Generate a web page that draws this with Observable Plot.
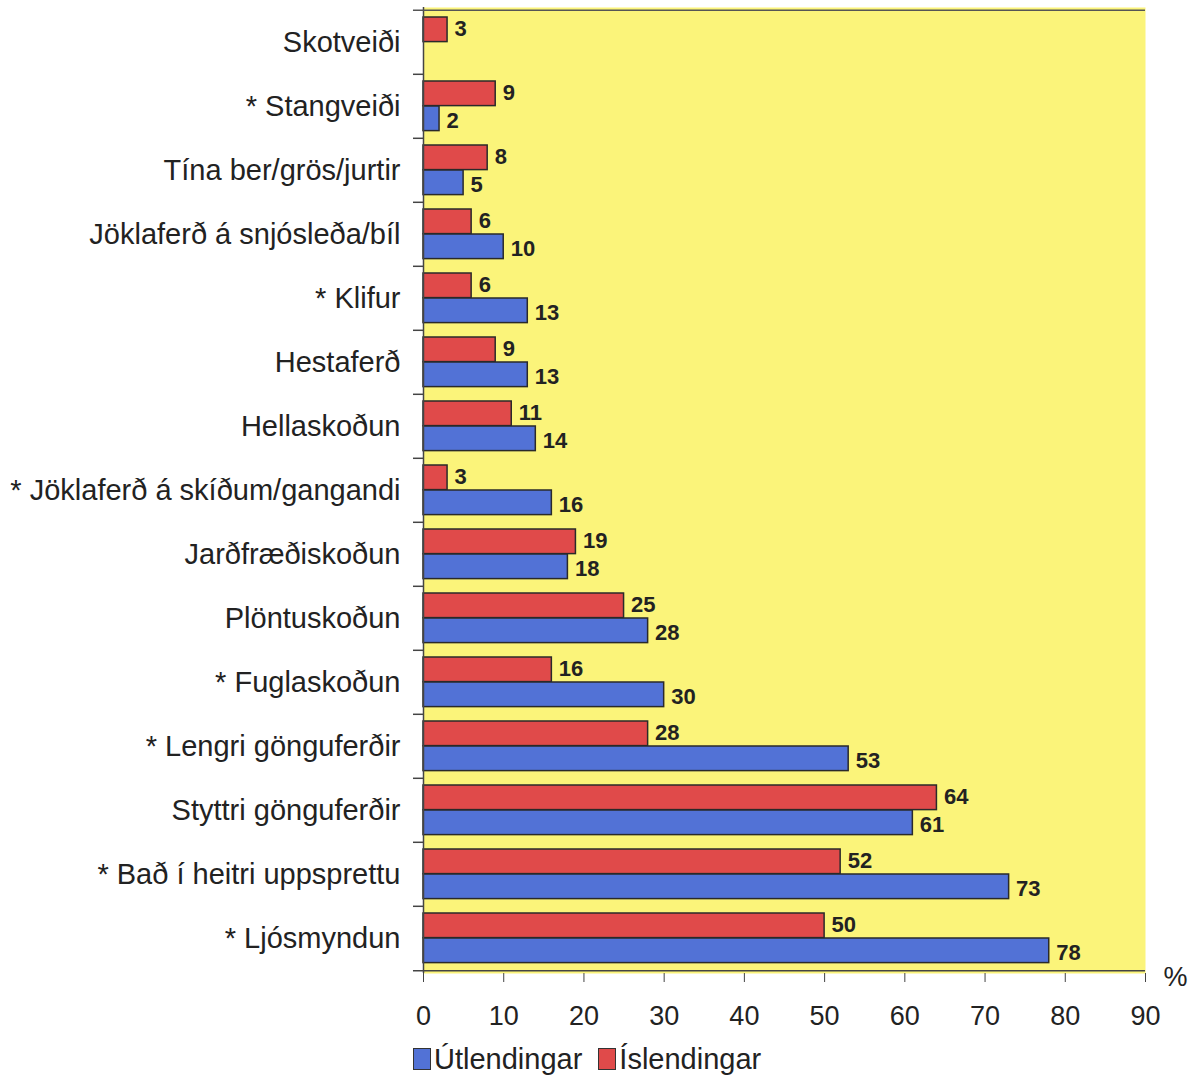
<!DOCTYPE html>
<html><head><meta charset="utf-8">
<script src="https://cdn.jsdelivr.net/npm/d3@7"></script>
<script src="https://cdn.jsdelivr.net/npm/@observablehq/plot@0.6"></script>
<style>
body{margin:0;background:#fff;font-family:"Liberation Sans",Arial,sans-serif}
#legend{display:flex;align-items:center;margin-left:413px;padding-top:2px;font-size:29px;color:#222;height:34px}
.sw{display:inline-block;width:16px;height:20px;border:1.5px solid #333;margin-right:3px}
.item{display:flex;align-items:center;margin-right:16px}
</style>
</head><body><div id="chart"></div>
<script>
const categories = ["Skotveiði","* Stangveiði","Tína ber/grös/jurtir","Jöklaferð á snjósleða/bíl","* Klifur","Hestaferð","Hellaskoðun","* Jöklaferð á skíðum/gangandi","Jarðfræðiskoðun","Plöntuskoðun","* Fuglaskoðun","* Lengri gönguferðir","Styttri gönguferðir","* Bað í heitri uppsprettu","* Ljósmyndun"];
const islendingar = [3,9,8,6,6,9,11,3,19,25,16,28,64,52,50];
const utlendingar = [null,2,5,10,13,13,14,16,18,28,30,53,61,73,78];
const xTicks = [0,10,20,30,40,50,60,70,80,90];
const seriesNames = ["Útlendingar","Íslendingar"];
const colors = {"Útlendingar":"#5272d6","Íslendingar":"#e04a4a"};

const isl = categories.map((c,i)=>({cat:c, value:islendingar[i]})).filter(d=>d.value!=null);
const utl = categories.map((c,i)=>({cat:c, value:utlendingar[i]})).filter(d=>d.value!=null);

const W = 1192, H = 1040, mT = 7, mB = 67;
const bw = (H - mT - mB) / categories.length;

const chart = Plot.plot({
  width: W, height: H,
  marginLeft: 423, marginRight: 47, marginTop: mT, marginBottom: mB,
  style: {fontFamily: '"Liberation Sans", Arial, sans-serif', color: "#222", background: "#fff"},
  x: {domain: [0, 90], ticks: xTicks, label: null},
  y: {domain: categories, padding: 0, label: null},
  marks: [
    Plot.frame({fill: "#fbf47a", stroke: null}),
    Plot.barX(isl, {x: "value", y: "cat", fill: colors["Íslendingar"], stroke: "#2a2a2a", strokeWidth: 1.5, insetTop: 7, insetBottom: bw - 32}),
    Plot.barX(utl, {x: "value", y: "cat", fill: colors["Útlendingar"], stroke: "#2a2a2a", strokeWidth: 1.5, insetTop: 32, insetBottom: bw - 57}),
    Plot.text(isl, {x: "value", y: "cat", text: d => String(d.value), dx: 7, dy: -14, textAnchor: "start", fontWeight: "bold", fontSize: 22, fill: "#222"}),
    Plot.text(utl, {x: "value", y: "cat", text: d => String(d.value), dx: 7, dy: 14, textAnchor: "start", fontWeight: "bold", fontSize: 22, fill: "#222"}),
    Plot.ruleX([0], {stroke: "#444", strokeWidth: 1.5}),
    Plot.ruleY([categories[0]], {y: d => d, x1: -1.25, x2: 90, dy: -bw/2, stroke: "#555", strokeWidth: 1.5, clip: false}),
    Plot.ruleY(categories.slice(1), {y: d => d, x1: -1.25, x2: 0, dy: -bw/2, stroke: "#444", strokeWidth: 1.5}),
    Plot.ruleY([categories[categories.length-1]], {y: d => d, x1: -1.25, x2: 90, dy: bw/2, stroke: "#444", strokeWidth: 1.5}),
    Plot.axisX({ticks: xTicks, tickSize: 9, tickPadding: 23, fontSize: 27, stroke: "#444", fill: "#222", label: null}),
    Plot.axisY({tickSize: 0, tickPadding: 23, fontSize: 29, fill: "#222", label: null}),
    Plot.text(["%"], {frameAnchor: "bottom-right", text: d => d, dx: 18, dy: 12, textAnchor: "start", fontSize: 27, fill: "#222"})
  ]
});
document.getElementById("chart").appendChild(chart);

const leg = document.createElement("div");
leg.id = "legend";
for (const s of seriesNames) {
  const it = document.createElement("span");
  it.className = "item";
  const sw = document.createElement("span");
  sw.className = "sw";
  sw.style.background = colors[s];
  it.appendChild(sw);
  it.appendChild(document.createTextNode(s));
  leg.appendChild(it);
}
document.body.appendChild(leg);
</script>
</body></html>
